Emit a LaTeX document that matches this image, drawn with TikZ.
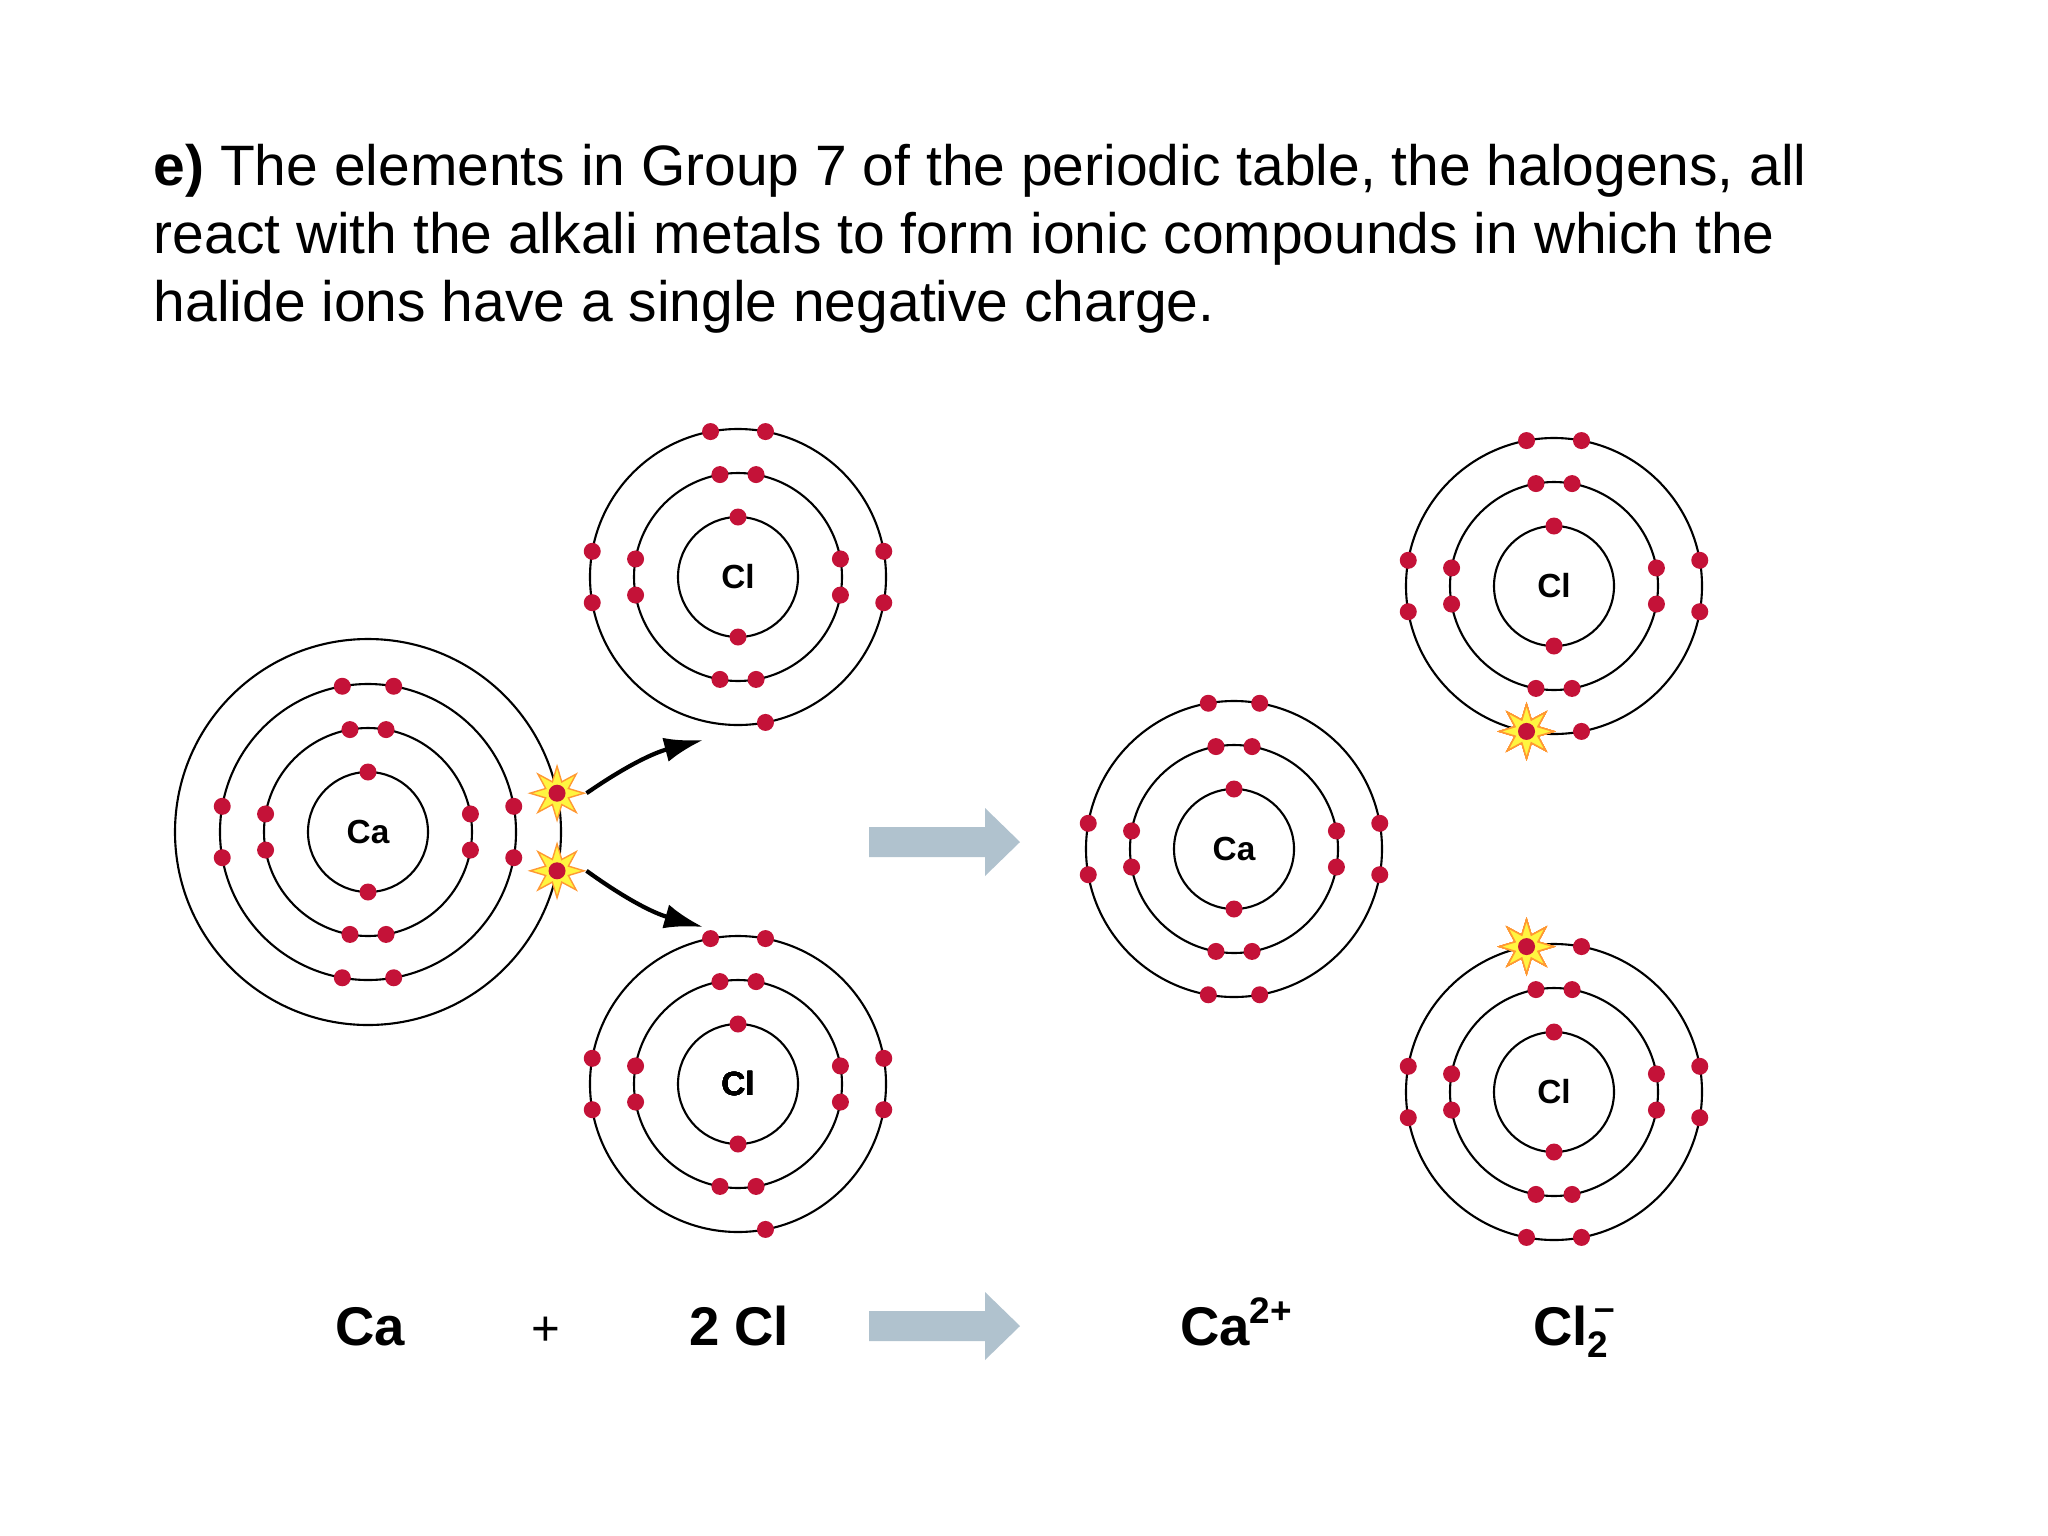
\documentclass[tikz,border=0pt]{standalone}
\usepackage{fontspec}
\setmainfont{Liberation Sans}
\usetikzlibrary{shapes.geometric,arrows.meta,calc}
\tikzset{
 orbit/.style={draw=black,line width=0.6pt},
 edot/.style={fill={rgb,255:red,196;green,18;blue,56}},
 spark/.style={star,star points=8,star point ratio=2.2,minimum size=54*0.01cm,inner sep=0pt,fill=yellow!75,draw=orange!80,line width=0.4pt},
 atomlbl/.style={font=\fontsize{9.5}{11}\selectfont\bfseries},
 eqlbl/.style={font=\fontsize{15.5}{18}\selectfont\bfseries,anchor=base},
 bigarrow/.style={fill={rgb,255:red,176;green,194;blue,206},draw=none},
}
\newcommand\edotat[3]{\fill[edot] ($(#1)+(#2:#3)$) circle (8.5);}
\newcommand\eightshell[3]{\foreach \bb in {0,90,180,270}{\foreach \ss in {-1,1}{\fill[edot] ($(#1)+(\bb+\ss*#3:#2)$) circle (8.5);}}}
\newcommand\bigarr[2]{\fill[bigarrow] (#1,#2+15) -- (985,#2+15) -- (985,#2+34) -- (1020,#2) -- (985,#2-34) -- (985,#2-15) -- (#1,#2-15) -- cycle;}
\newcommand\smallb{\fontsize{10.5}{11}\selectfont\bfseries}
\begin{document}
\begin{tikzpicture}[x=0.01cm,y=0.01cm]
\useasboundingbox (0,0) rectangle (2048,-1536);
\fill[white] (0,0) rectangle (2048,-1536);
% title
\node[anchor=base west,inner sep=0pt,font=\fontsize{16.2}{20}\selectfont] (t1) at (153,-185) {\textbf{e)} The elements in Group 7 of the periodic table, the halogens, all};
\node[anchor=base west,inner sep=0pt,font=\fontsize{16.2}{20}\selectfont] (t2) at (153,-253) {react with the alkali metals to form ionic compounds in which the};
\node[anchor=base west,inner sep=0pt,font=\fontsize{16.2}{20}\selectfont] (t3) at (153,-321) {halide ions have a single negative charge.};
% Ca atom
\node[atomlbl] (ca) at (368,-832) {Ca};
\foreach \r in {60,104,148,193} \draw[orbit] (ca.center) circle (\r);
\edotat{ca.center}{90}{60}\edotat{ca.center}{270}{60}
\eightshell{ca.center}{104}{10}
\eightshell{ca.center}{148}{10}
\node[spark] (s1) at ($(ca.center)+(11.6:193)$) {};
\node[spark] (s2) at ($(ca.center)+(-11.6:193)$) {};
\fill[edot] (s1.center) circle (8.5); \fill[edot] (s2.center) circle (8.5);
% Cl top
\node[atomlbl] (clt) at (738,-577) {Cl};
\foreach \r in {60,104,148} \draw[orbit] (clt.center) circle (\r);
\edotat{clt.center}{90}{60}\edotat{clt.center}{270}{60}
\eightshell{clt.center}{104}{10}
\foreach \a in {79.3,100.7,170,190,-10,10,-79.3} \edotat{clt.center}{\a}{148}
% Cl bottom
\node[atomlbl] (clb) at (738,-1084) {Cl};
\foreach \r in {60,104,148} \draw[orbit] (clb.center) circle (\r);
\edotat{clb.center}{90}{60}\edotat{clb.center}{270}{60}
\eightshell{clb.center}{104}{10}
\foreach \a in {79.3,100.7,170,190,-10,10,-79.3} \edotat{clb.center}{\a}{148}
% curved arrows
\coordinate (e1) at (703,-740);
\coordinate (e2) at (703,-927);
\draw[-{Latex[length=11pt,width=7pt]},line width=1.2pt] (s1.east) to[bend left=10] (e1);
\draw[-{Latex[length=11pt,width=7pt]},line width=1.2pt] (s2.east) to[bend left=-10] (e2);
% big arrows
\bigarr{869}{-842}
\bigarr{869}{-1326}
% Ca ion
\node[atomlbl] (car) at (1234,-849) {Ca};
\foreach \r in {60,104,148} \draw[orbit] (car.center) circle (\r);
\edotat{car.center}{90}{60}\edotat{car.center}{270}{60}
\eightshell{car.center}{104}{10}
\eightshell{car.center}{148}{10}
% Cl- top right
\node[atomlbl] (clrt) at (1554,-586) {Cl};
\foreach \r in {60,104,148} \draw[orbit] (clrt.center) circle (\r);
\edotat{clrt.center}{90}{60}\edotat{clrt.center}{270}{60}
\eightshell{clrt.center}{104}{10}
\foreach \a in {79.3,100.7,170,190,-10,10,-79.3} \edotat{clrt.center}{\a}{148}
\node[spark] (s3) at ($(clrt.center)+(259.3:148)$) {};
\fill[edot] (s3.center) circle (8.5);
% Cl- bottom right
\node[atomlbl] (clrb) at (1554,-1092) {Cl};
\foreach \r in {60,104,148} \draw[orbit] (clrb.center) circle (\r);
\edotat{clrb.center}{90}{60}\edotat{clrb.center}{270}{60}
\eightshell{clrb.center}{104}{10}
\foreach \a in {79.3,170,190,-10,10,-79.3,-100.7} \edotat{clrb.center}{\a}{148}
\node[spark] (s4) at ($(clrb.center)+(100.7:148)$) {};
\fill[edot] (s4.center) circle (8.5);
% equation
\node[eqlbl] (q1) at (370,-1345) {Ca};
\node[eqlbl,font=\fontsize{14}{16}\selectfont] (q2) at (546,-1345) {+};
\node[eqlbl] (q3) at (739,-1345) {2 Cl};
\node[eqlbl] (q4) at (1236,-1345) {Ca\raisebox{0.75ex}{\smallb 2+}};
\node[eqlbl] (q5) at (1574,-1345) {Cl\rlap{\raisebox{-0.45ex}{\smallb 2}}\raisebox{0.85ex}{\smallb\,–}};
\end{tikzpicture}
\end{document}
